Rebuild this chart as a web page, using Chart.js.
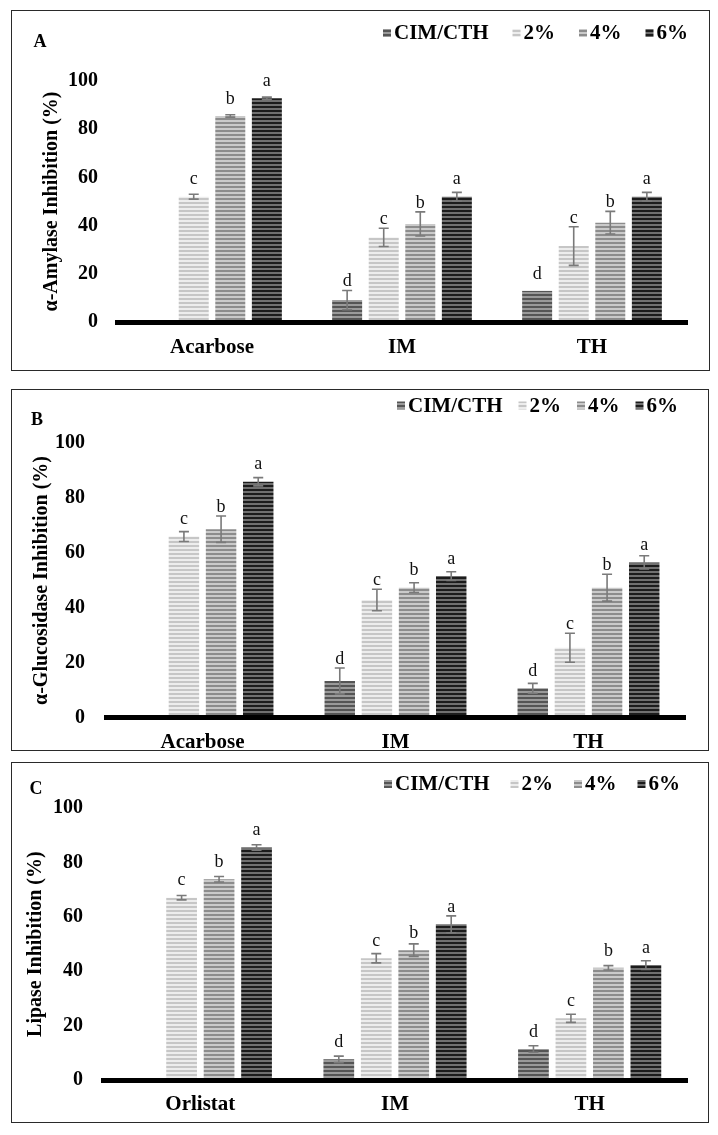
<!DOCTYPE html>
<html><head><meta charset="utf-8">
<script src="https://cdn.jsdelivr.net/npm/chart.js@4.4.0/dist/chart.umd.min.js"></script>
<style>
body{margin:0;background:#fff;width:718px;height:1135px;position:relative;overflow:hidden}
.wrap{position:absolute}
.frame{position:absolute;border:1.5px solid #2a2a2a;box-sizing:border-box;pointer-events:none}
canvas{position:absolute;left:0;top:0}
</style></head><body>
<div class="wrap" style="left:11px;top:10px;width:699px;height:361px"><canvas id="cA" width="699" height="361"></canvas></div>
<div class="wrap" style="left:11px;top:389px;width:698px;height:362px"><canvas id="cB" width="698" height="362"></canvas></div>
<div class="wrap" style="left:11px;top:762px;width:698px;height:361px"><canvas id="cC" width="698" height="361"></canvas></div>
<div class="frame" style="left:11px;top:10px;width:699px;height:361px"></div>
<div class="frame" style="left:11px;top:389px;width:698px;height:362px"></div>
<div class="frame" style="left:11px;top:762px;width:698px;height:361px"></div>
<script>
// ---------- data ----------
const categoriesAB = ['Acarbose', 'IM', 'TH'];
const categoriesC = ['Orlistat', 'IM', 'TH'];
const seriesLabels = ['CIM/CTH', '2%', '4%', '6%'];

const amylaseCIM = [null, 9.1, 12.9];
const amylase2 = [52.0, 35.1, 31.5];
const amylase4 = [85.5, 40.7, 41.2];
const amylase6 = [92.8, 52.0, 52.0];
const amylaseCIMerr = [null, 4.0, 0];
const amylase2err = [1.0, 3.8, 8.0];
const amylase4err = [0.5, 5.0, 4.7];
const amylase6err = [0.5, 1.8, 1.8];

const glucCIM = [null, 13.4, 10.7];
const gluc2 = [66.0, 42.9, 25.5];
const gluc4 = [68.7, 47.4, 47.4];
const gluc6 = [86.0, 51.6, 56.6];
const glucCIMerr = [null, 4.7, 1.8];
const gluc2err = [1.8, 3.9, 5.3];
const gluc4err = [4.8, 1.8, 4.9];
const gluc6err = [1.5, 1.6, 2.4];

const lipCIM = [null, 7.6, 11.4];
const lip2 = [67.1, 44.8, 22.7];
const lip4 = [73.9, 47.8, 41.3];
const lip6 = [85.6, 57.3, 42.3];
const lipCIMerr = [null, 1.2, 1.2];
const lip2err = [0.8, 1.7, 1.5];
const lip4err = [1.0, 2.3, 0.8];
const lip6err = [1.0, 3.1, 1.6];

const lettersCIM = [null, 'd', 'd'];
const letters2 = ['c', 'c', 'c'];
const letters4 = ['b', 'b', 'b'];
const letters6 = ['a', 'a', 'a'];

const yTicks = [0, 20, 40, 60, 80, 100];

// ---------- styles ----------
const FONT = "'Liberation Serif','Times New Roman',serif";
function stripePattern(c1, c2, h1, h2) {
  const cv = document.createElement('canvas');
  cv.width = 4; cv.height = h1 + h2;
  const x = cv.getContext('2d');
  x.fillStyle = c1; x.fillRect(0, 0, 4, h1);
  x.fillStyle = c2; x.fillRect(0, h1, 4, h2);
  return x.createPattern(cv, 'repeat');
}
const patterns = [
  stripePattern('#555555', '#9a9a9a', 2, 2),
  stripePattern('#c6c6c6', '#ededed', 2, 2),
  stripePattern('#8c8c8c', '#cacaca', 2, 2),
  stripePattern('#1c1c1c', '#707070', 2, 2)
];
const seriesLetters = [lettersCIM, letters2, letters4, letters6];

const errorBarsPlugin = {
  id: 'errorBars',
  afterDatasetsDraw(chart) {
    const ctx = chart.ctx, ys = chart.scales.y;
    ctx.save();
    chart.data.datasets.forEach((ds, i) => {
      const meta = chart.getDatasetMeta(i);
      ds.data.forEach((v, j) => {
        if (v == null) return;
        const el = meta.data[j];
        const e = ds.errors[j] || 0;
        const x = el.x;
        const top = ys.getPixelForValue(v + e), bot = ys.getPixelForValue(v - e);
        if (e > 0) {
          ctx.strokeStyle = '#7a7a7a';
          ctx.lineWidth = 1.6;
          ctx.beginPath();
          ctx.moveTo(x, top); ctx.lineTo(x, bot);
          ctx.moveTo(x - 5, top); ctx.lineTo(x + 5, top);
          ctx.moveTo(x - 5, bot); ctx.lineTo(x + 5, bot);
          ctx.stroke();
        }
        const L = ds.letters[j];
        if (L) {
          const yl = Math.min(ys.getPixelForValue(v) - 17, top - 9);
          ctx.fillStyle = '#111';
          ctx.font = `18px ${FONT}`;
          ctx.textAlign = 'center';
          ctx.textBaseline = 'middle';
          ctx.fillText(L, x, yl);
        }
      });
    });
    ctx.restore();
  }
};

const panelDeco = {
  id: 'panelDeco',
  afterDraw(chart, args, o) {
    const ctx = chart.ctx;
    ctx.save();
    ctx.font = `bold ${o.fontSize}px ${FONT}`;
    ctx.textBaseline = 'middle';
    ctx.textAlign = 'left';
    const items = chart.data.datasets.map(d => ({label: d.label, bg: d.backgroundColor, w: ctx.measureText(d.label).width}));
    const box = 8, tg = 3;
    const total = items.reduce((s, it) => s + box + tg + it.w, 0) + o.gap * (items.length - 1);
    let x = o.right - total;
    items.forEach(it => {
      ctx.fillStyle = it.bg;
      ctx.fillRect(x, o.y - 5, box, box);
      ctx.fillStyle = '#000';
      ctx.fillText(it.label, x + box + tg, o.y);
      x += box + tg + it.w + o.gap;
    });
    ctx.font = `bold 18px ${FONT}`;
    ctx.textAlign = 'center';
    ctx.fillText(o.panel, o.px, o.py);
    ctx.restore();
  }
};

function makeChart(id, cats, vals, errs, yTitle, L) {
  new Chart(document.getElementById(id), {
    type: 'bar',
    data: {
      labels: cats,
      datasets: seriesLabels.map((lab, i) => ({
        label: lab, data: vals[i], errors: errs[i], letters: seriesLetters[i],
        backgroundColor: patterns[i], borderWidth: 0,
        categoryPercentage: 0.77, barPercentage: 0.82
      }))
    },
    options: {
      responsive: false, animation: false, events: [],
      layout: {padding: {left: 10, top: L.top, right: L.right, bottom: 0}},
      plugins: {
        legend: {display: false}, tooltip: {enabled: false},
        panelDeco: {fontSize: 21, right: L.legRight, y: L.legY, gap: L.legGap, panel: L.panel, px: L.px, py: L.py}
      },
      scales: {
        x: {
          grid: {display: false, drawTicks: false},
          border: {display: true, color: '#000', width: 5, z: 1},
          ticks: {color: '#000', padding: L.xpad, maxRotation: 0, font: {family: FONT, size: 21, weight: 'bold'}},
          afterFit(s) { s.height = L.xh; }
        },
        y: {
          min: yTicks[0], max: yTicks[yTicks.length - 1],
          afterBuildTicks(s) { s.ticks = yTicks.map(v => ({value: v})); },
          ticks: {color: '#000', padding: L.ypad, font: {family: FONT, size: 20, weight: 'bold'}},
          grid: {display: false, drawTicks: false},
          border: {display: false},
          title: {display: true, text: yTitle, color: '#000', font: {family: FONT, size: 20, weight: 'bold'}, padding: {top: L.tpad, bottom: 0}},
          afterFit(s) { s.width = L.yw; }
        }
      }
    },
    plugins: [errorBarsPlugin, panelDeco]
  });
}

makeChart('cA', categoriesAB,
  [amylaseCIM, amylase2, amylase4, amylase6],
  [amylaseCIMerr, amylase2err, amylase4err, amylase6err],
  'α-Amylase Inhibition (%)',
  {top: 71, right: 23, xh: 49, xpad: 13.4, ypad: 19, yw: 96, tpad: 19,
   legRight: 677, legY: 24, legGap: 24, panel: 'A', px: 29, py: 32});

makeChart('cB', categoriesAB,
  [glucCIM, gluc2, gluc4, gluc6],
  [glucCIMerr, gluc2err, gluc4err, gluc6err],
  'α-Glucosidase Inhibition (%)',
  {top: 54.3, right: 24, xh: 33.3, xpad: 12.7, ypad: 21, yw: 85, tpad: 9,
   legRight: 667, legY: 17.5, legGap: 16, panel: 'B', px: 26, py: 31});

makeChart('cC', categoriesC,
  [lipCIM, lip2, lip4, lip6],
  [lipCIMerr, lip2err, lip4err, lip6err],
  'Lipase Inhibition (%)',
  {top: 46.3, right: 22, xh: 43, xpad: 12.4, ypad: 20, yw: 82, tpad: 3,
   legRight: 669, legY: 23, legGap: 21, panel: 'C', px: 25, py: 27});
</script>
</body></html>
